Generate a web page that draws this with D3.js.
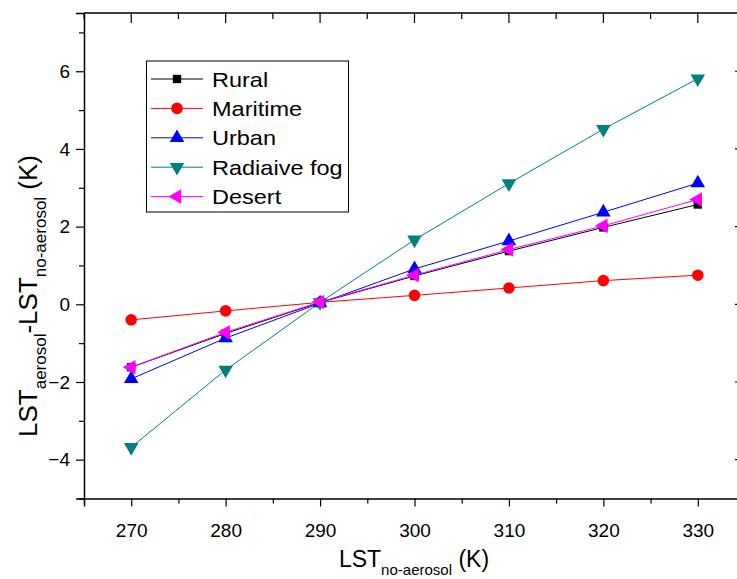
<!DOCTYPE html>
<html>
<head>
<meta charset="utf-8">
<script src="https://cdn.jsdelivr.net/npm/d3@7"></script>
<style>
  html, body { margin: 0; padding: 0; background: #fff; }
  svg { display: block; }
  text { font-family: Arial, "Liberation Sans", sans-serif; fill: #000; }
</style>
</head>
<body>
<svg id="chart" width="737" height="579"></svg>
<script>
// LST without aerosol (K)
const lstNoAerosol = [270, 280, 290, 300, 310, 320, 330];

// LST difference (aerosol minus no-aerosol), K, per aerosol model
const rural    = [-1.62, -0.75, 0.05, 0.73, 1.37, 1.98, 2.57];
const maritime = [-0.40, -0.17, 0.05, 0.23, 0.42, 0.61, 0.75];
const urban    = [-1.92, -0.87, 0.03, 0.91, 1.63, 2.37, 3.12];
const fog      = [-3.68, -1.69, 0.05, 1.66, 3.11, 4.51, 5.81];
const desert   = [-1.62, -0.72, 0.06, 0.75, 1.41, 2.02, 2.70];

const seriesNames = ["Rural", "Maritime", "Urban", "Radiaive fog", "Desert"];
const xTicks = [270, 280, 290, 300, 310, 320, 330];
const yTicks = [-4, -2, 0, 2, 4, 6];

const series = [
  { name: seriesNames[0], values: rural,    color: "#000000", shape: "square" },
  { name: seriesNames[1], values: maritime, color: "#ff0000", shape: "circle" },
  { name: seriesNames[2], values: urban,    color: "#0000ff", shape: "up" },
  { name: seriesNames[3], values: fog,      color: "#008080", shape: "down" },
  { name: seriesNames[4], values: desert,   color: "#ff00ff", shape: "left" }
];

const svg = d3.select("#chart");
const plotLeft = 84, plotRight = 745, plotTop = 13, plotBottom = 498.5;

const x = d3.scaleLinear().domain([265, 335]).range([plotLeft, plotRight]);
const y = d3.scaleLinear().domain([-5, 7.5]).range([plotBottom, plotTop]);

// marker path generator by shape name
function markerPath(shape) {
  if (shape === "square") return d3.symbol(d3.symbolSquare, 70)();
  if (shape === "circle") return d3.symbol(d3.symbolCircle, 105)();
  return d3.symbol(d3.symbolTriangle, 92)();
}
function markerRotation(shape) {
  if (shape === "down") return 180;
  if (shape === "left") return -90;
  return 0;
}

// frame: top and right sides with inward ticks
const majorX = xTicks;
const minorX = d3.range(265, 336, 10);
const majorY = yTicks;
const minorY = d3.range(-5, 8, 2);

const frame = svg.append("g").attr("stroke", "#000").attr("fill", "none");
frame.append("line").attr("x1", plotLeft).attr("x2", plotRight).attr("y1", plotTop).attr("y2", plotTop).attr("stroke-width", 1.5);
frame.append("line").attr("x1", plotRight).attr("x2", plotRight).attr("y1", plotTop).attr("y2", plotBottom).attr("stroke-width", 1.5);
majorX.forEach(v => frame.append("line").attr("x1", x(v)).attr("x2", x(v)).attr("y1", plotTop).attr("y2", plotTop + 10).attr("stroke-width", 1.2));
minorX.forEach(v => frame.append("line").attr("x1", x(v)).attr("x2", x(v)).attr("y1", plotTop).attr("y2", plotTop + 6).attr("stroke-width", 1.2));
majorY.forEach(v => frame.append("line").attr("x1", plotRight).attr("x2", plotRight - 10).attr("y1", y(v)).attr("y2", y(v)).attr("stroke-width", 1.2));

// bottom axis
const gx = svg.append("g").attr("transform", `translate(0,${plotBottom})`)
  .call(d3.axisBottom(x).tickValues(majorX).tickSize(8).tickPadding(17).tickFormat(d3.format("d")));
gx.select(".domain").attr("stroke-width", 1.5);
gx.selectAll(".tick line").attr("stroke-width", 1.2);
gx.selectAll(".tick text").attr("font-size", 19).attr("font-family", "Arial, 'Liberation Sans', sans-serif");
const gxMinor = svg.append("g").attr("transform", `translate(0,${plotBottom})`)
  .call(d3.axisBottom(x).tickValues(minorX).tickSize(5).tickFormat(""));
gxMinor.select(".domain").remove();
gxMinor.selectAll(".tick line").attr("stroke-width", 1.2);

// left axis
const gy = svg.append("g").attr("transform", `translate(${plotLeft},0)`)
  .call(d3.axisLeft(y).tickValues(majorY).tickSize(8).tickPadding(6).tickFormat(d3.format("d")));
gy.select(".domain").attr("stroke-width", 1.5);
gy.selectAll(".tick line").attr("stroke-width", 1.2);
gy.selectAll(".tick text").attr("font-size", 19).attr("font-family", "Arial, 'Liberation Sans', sans-serif");
const gyMinor = svg.append("g").attr("transform", `translate(${plotLeft},0)`)
  .call(d3.axisLeft(y).tickValues(minorY).tickSize(5).tickFormat(""));
gyMinor.select(".domain").remove();
gyMinor.selectAll(".tick line").attr("stroke-width", 1.2);

// axis titles
const xTitle = svg.append("text").attr("x", 414).attr("y", 567).attr("text-anchor", "middle").attr("font-size", 23);
xTitle.append("tspan").text("LST");
xTitle.append("tspan").attr("font-size", 15).attr("dy", 8).text("no-aerosol");
xTitle.append("tspan").attr("dy", -8).text(" (K)");

const yTitle = svg.append("text").attr("transform", "translate(37,296) rotate(-90)").attr("text-anchor", "middle").attr("font-size", 26);
yTitle.append("tspan").text("LST");
yTitle.append("tspan").attr("font-size", 17).attr("dy", 9).text("aerosol");
yTitle.append("tspan").attr("dy", -9).text("-LST");
yTitle.append("tspan").attr("font-size", 17).attr("dy", 9).text("no-aerosol");
yTitle.append("tspan").attr("dy", -9).text(" (K)");

// series lines and markers
const line = d3.line().x((d, i) => x(lstNoAerosol[i])).y(d => y(d));
const plot = svg.append("g");
series.forEach(s => {
  plot.append("path").datum(s.values).attr("d", line)
    .attr("fill", "none").attr("stroke", s.color).attr("stroke-width", 1);
});
series.forEach(s => {
  plot.append("g").selectAll("path").data(s.values).join("path")
    .attr("d", markerPath(s.shape))
    .attr("transform", (d, i) => `translate(${x(lstNoAerosol[i])},${y(d)}) rotate(${markerRotation(s.shape)})`)
    .attr("fill", s.color);
});

// legend
const legend = svg.append("g");
legend.append("rect").attr("x", 146.5).attr("y", 61).attr("width", 202).attr("height", 151)
  .attr("fill", "#fff").attr("stroke", "#000").attr("stroke-width", 1);
series.forEach((s, i) => {
  const cy = 79 + i * 29.4;
  legend.append("line").attr("x1", 151).attr("x2", 203).attr("y1", cy).attr("y2", cy)
    .attr("stroke", s.color).attr("stroke-width", 1);
  legend.append("path").attr("d", markerPath(s.shape))
    .attr("transform", `translate(177,${cy}) rotate(${markerRotation(s.shape)})`)
    .attr("fill", s.color);
  legend.append("text").attr("transform", `translate(212,${cy + 7.5}) scale(1.12,1)`)
    .attr("font-size", 21).text(s.name);
});
</script>
</body>
</html>
